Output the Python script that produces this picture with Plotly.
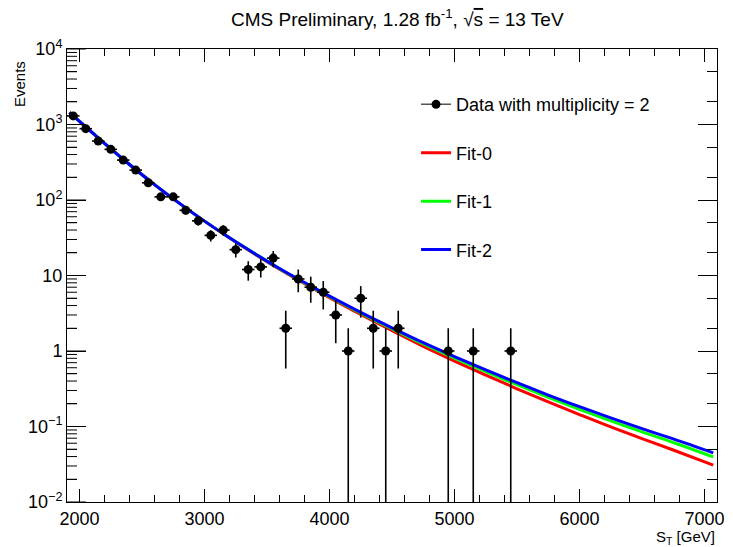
import numpy as np
import plotly.graph_objects as go

# ---- data ----
bin_centers = [1950, 2050, 2150, 2250, 2350, 2450, 2550, 2650, 2750, 2850,
               2950, 3050, 3150, 3250, 3350, 3450, 3550, 3650, 3750, 3850,
               3950, 4050, 4150, 4250, 4350, 4450, 4550, 4950, 5150, 5450]
events = [1300, 880, 604, 469, 338, 249, 169, 110, 110, 73,
          53, 34, 40, 22, 12, 13, 17, 2, 9, 7,
          6, 3, 1, 5, 2, 1, 2, 1, 1, 1]
bin_half_width = 50

fit_x = [1920, 1950, 2000, 2200, 2400, 2600, 2800, 3000, 3200, 3400,
         3600, 3800, 4000, 4250, 4500, 4750, 5000, 5250, 5500, 5750,
         6000, 6250, 6500, 6750, 7070]
fit2_blue = [1445, 1303, 1096, 562, 295, 160, 90.2, 52.5, 31.6, 19.6,
             12.4, 8.07, 5.33, 3.25, 2.03, 1.29, 0.845, 0.562, 0.380, 0.261,
             0.183, 0.130, 0.0938, 0.0684, 0.0447]
fit1_green = [1445, 1303, 1096, 562, 295, 160, 90.2, 52.5, 31.6, 19.6,
              12.3, 8.0, 5.26, 3.18, 1.97, 1.24, 0.807, 0.533, 0.358, 0.244,
              0.169, 0.119, 0.0849, 0.0614, 0.0395]
fit0_red = [1445, 1303, 1096, 562, 295, 160, 90.2, 52.5, 31.4, 19.3,
            12.1, 7.8, 5.09, 3.04, 1.86, 1.15, 0.736, 0.479, 0.316, 0.212,
            0.144, 0.0988, 0.0692, 0.0488, 0.0307]

y_tickvals = [0.01, 0.1, 1, 10, 100, 1000, 10000]
y_ticktext = ["10<sup>\u22122</sup>", "10<sup>\u22121</sup>", "1", "10",
              "10<sup>2</sup>", "10<sup>3</sup>", "10<sup>4</sup>"]
x_tickvals = [2000, 3000, 4000, 5000, 6000, 7000]
x_minor_step = 200
x_range = [1900, 7100]
y_range_log = [-2, 4]

FONT = "Liberation Sans, Arial, Helvetica, sans-serif"

dx, dy, eup, edn, ex = [], [], [], [], []
for c, n in zip(bin_centers, events):
    s = float(np.sqrt(n))
    dx += [c, None]
    dy += [n, None]
    eup += [s, None]
    edn += [min(s, n * 0.999999), None]
    ex += [bin_half_width, None]

fig = go.Figure()
for name, vals, col, rank in [("Fit-0", fit0_red, "#ff0000", 2),
                              ("Fit-1", fit1_green, "#00ff00", 3),
                              ("Fit-2", fit2_blue, "#0000ff", 4)]:
    fig.add_trace(go.Scatter(x=fit_x, y=vals, mode="lines", name=name,
                             line=dict(color=col, width=3, shape="spline"),
                             legendgroup=name, legendrank=rank))
fig.add_trace(go.Scatter(
    x=dx, y=dy, mode="lines+markers", connectgaps=False,
    name="Data with multiplicity = 2",
    line=dict(color="#555555", width=1.5),
    marker=dict(color="black", size=9, symbol="circle"),
    error_y=dict(type="data", array=eup, arrayminus=edn, symmetric=False,
                 color="black", thickness=1.6, width=0),
    error_x=dict(type="data", array=ex, color="black", thickness=1.6, width=0),
    legendgroup="data", legendrank=1, showlegend=True,
))

# ---- tick marks on the left and bottom edges (drawn as short lines) ----
tick_style = dict(color="black", width=1)
shapes = []
x_minor = [v for v in range(x_tickvals[0], x_tickvals[-1] + 1, x_minor_step)
           if v not in x_tickvals]
for v in x_tickvals + x_minor:
    ln = 13 if v in x_tickvals else 7
    shapes.append(dict(type="line", xref="x", x0=v, x1=v,
                       yref="y domain", ysizemode="pixel", yanchor=0, y0=0, y1=ln,
                       line=tick_style, layer="above"))
y_lo, y_hi = y_range_log
for d in range(y_lo, y_hi + 1):
    for m in range(1, 10):
        if d == y_hi and m > 1:
            break
        frac = (d + np.log10(m) - y_lo) / (y_hi - y_lo)
        ln = 19 if m == 1 else 10
        shapes.append(dict(type="line", yref="y domain", y0=frac, y1=frac,
                           xref="x domain", xsizemode="pixel", xanchor=0, x0=0, x1=ln,
                           line=tick_style, layer="above"))

fig.update_layout(
    width=733, height=547,
    margin=dict(l=67, r=9, t=49, b=45),
    paper_bgcolor="white", plot_bgcolor="white",
    font=dict(family=FONT, size=16, color="black"),
    showlegend=True,
    legend=dict(x=0.537, y=0.918, xanchor="left", yanchor="top",
                traceorder="grouped", tracegroupgap=22,
                bgcolor="rgba(0,0,0,0)", font=dict(size=18, family=FONT)),
    xaxis=dict(range=x_range, tickmode="array", tickvals=x_tickvals,
               ticks="inside", ticklen=13, tickwidth=1, tickcolor="#000000",
               showline=True, linecolor="black", linewidth=1, mirror="ticks",
               showgrid=False, zeroline=False,
               tickfont=dict(size=18, family=FONT),
               minor=dict(ticks="inside", ticklen=7, dtick=x_minor_step,
                          tickwidth=1, tickcolor="#000000", showgrid=False)),
    yaxis=dict(type="log", range=y_range_log, tickmode="array",
               tickvals=y_tickvals, ticktext=y_ticktext,
               ticks="inside", ticklen=19, tickwidth=1, tickcolor="#000000",
               showline=True, linecolor="black", linewidth=1, mirror="ticks",
               showgrid=False, zeroline=False,
               tickfont=dict(size=18, family=FONT),
               minor=dict(ticks="inside", ticklen=10, tickwidth=1,
                          tickcolor="#000000", showgrid=False)),
    shapes=shapes,
    annotations=[
        dict(text="CMS Preliminary, 1.28 fb<sup>-1</sup>, \u221a<span style='text-decoration:overline'>s</span> = 13 TeV",
             xref="paper", yref="paper", x=0.508, y=1.0, yshift=31,
             xanchor="center", yanchor="middle", showarrow=False,
             font=dict(size=19, family=FONT)),
        dict(text="Events", xref="paper", yref="paper", x=0, xshift=-48, y=1.0, yshift=-10,
             textangle=-90, xanchor="center", yanchor="top", showarrow=False,
             font=dict(size=15, family=FONT)),
        dict(text="S<sub>T</sub> [GeV]", xref="paper", yref="paper", x=1.0, y=0,
             yshift=-24, xanchor="right", yanchor="top", showarrow=False,
             font=dict(size=15, family=FONT)),
    ],
)

fig.write_html("out.html")
